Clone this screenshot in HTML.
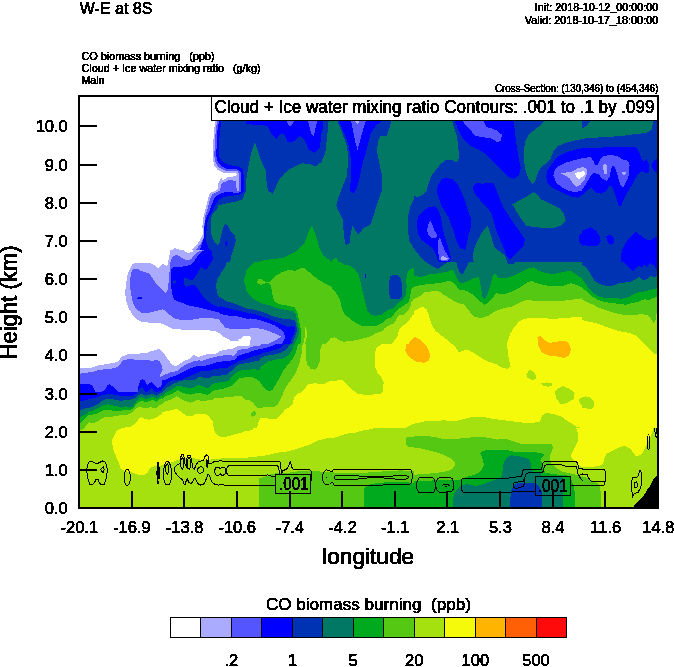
<!DOCTYPE html>
<html><head><meta charset="utf-8">
<style>
html,body{margin:0;padding:0;background:#fff;}
svg{display:block;}
text{font-family:"Liberation Sans",sans-serif;fill:#000;stroke:#000;white-space:pre;}
</style></head><body>
<svg width="674" height="667" viewBox="0 0 674 667">
<rect x="0" y="0" width="674" height="667" fill="#fff"/>
<defs><filter id="th" x="-5%" y="-5%" width="110%" height="110%" color-interpolation-filters="sRGB"><feComponentTransfer><feFuncA type="discrete" tableValues="0 0 1 1 1"/></feComponentTransfer></filter><clipPath id="pc"><rect x="79" y="96" width="579" height="412"/></clipPath></defs>
<g id="fill" clip-path="url(#pc)" shape-rendering="crispEdges">
<clipPath id="t0"><rect x="78" y="96" width="168" height="166"/></clipPath>
<g clip-path="url(#t0)"><rect x="78" y="96" width="168" height="166" fill="#ffffff"/>
<g transform="translate(78,96) scale(0.24926)">
<polygon fill="#aaaaff" points="553,90 547,130 543,180 540,230 540,255 548,280 562,298 585,308 632,310 637,316 630,322 600,326 582,338 574,329 564,349 559,377 529,390 521,415 511,455 504,481 499,521 501,556 484,587 458,617 438,632 413,620 388,609 372,622 362,652 360,670 680,670 680,90"/>
<polygon fill="#5555ff" points="560,90 553,130 550,180 547,230 548,255 556,275 570,290 592,300 640,302 647,312 647,382 637,382 634,340 605,338 590,345 577,349 569,380 539,395 529,417 519,455 511,481 506,521 506,566 489,597 468,622 446,642 433,652 413,640 393,632 380,642 372,670 680,670 680,90"/>
<polygon fill="#0000ff" points="568,90 560,130 557,180 555,230 556,252 563,270 577,284 596,292 640,295 652,305 655,330 655,385 640,388 600,386 578,388 558,400 545,414 536,437 528,460 518,480 511,500 506,531 504,572 494,602 484,627 471,652 466,670 680,670 680,90"/>
<polygon fill="#0032b4" points="578,90 572,120 568,160 566,200 566,240 573,258 590,270 610,278 640,282 660,292 665,320 665,385 650,395 620,400 590,404 568,413 555,430 545,452 535,470 524,490 519,510 516,531 514,582 524,612 537,642 542,670 680,670 680,90"/>
<polygon fill="#007864" points="680,378 674,380 660,415 640,422 600,430 564,438 554,460 537,478 532,501 532,541 537,566 549,587 559,599 567,592 574,561 582,531 590,515 600,518 612,541 630,561 633,582 625,612 615,642 610,670 680,670"/>
<polygon fill="#0000ff" points="591,585 598,583 601,592 596,600 590,596"/>
</g></g>
<clipPath id="t1"><rect x="246" y="96" width="168" height="166"/></clipPath>
<g clip-path="url(#t1)"><rect x="246" y="96" width="168" height="166" fill="#007864"/>
<g transform="translate(246,96) scale(0.24926)">
<polygon fill="#0032b4" points="-5,90 332,90 329,130 325,165 318,230 302,265 280,283 255,273 225,270 180,290 155,310 130,340 117,372 106,392 88,380 82,340 80,300 65,270 50,230 36,185 20,230 8,290 0,345 -5,350"/>
<polygon fill="#0000ff" points="-5,90 312,90 308,130 302,150 297,205 277,228 252,217 237,178 215,160 192,182 168,187 155,155 140,150 122,172 100,150 87,122 65,115 30,115 -5,110"/>
<polygon fill="#5555ff" points="160,90 168,112 178,122 188,112 195,90"/>
<polygon fill="#5555ff" points="247,90 252,115 262,150 270,162 277,140 283,110 285,90"/>
<polygon fill="#0032b4" points="362,90 375,120 390,160 405,200 410,250 405,320 385,370 370,410 362,440 375,470 390,500 392,560 400,597 415,592 420,550 427,520 450,557 470,532 500,515 515,470 530,420 545,380 546,320 535,270 525,220 530,180 540,160 565,160 575,130 587,90"/>
<polygon fill="#0000ff" points="368,90 385,130 400,165 412,200 420,250 420,330 418,380 430,393 445,370 455,330 465,280 480,230 490,190 500,150 520,120 540,105 547,90"/>
<polygon fill="#5555ff" points="420,90 430,140 440,190 447,216 455,190 465,150 478,110 484,90"/>
<polygon fill="#aaaaff" points="432,90 438,105 446,112 454,105 458,90"/>
<polygon fill="#0032b4" points="680,410 674,415 660,440 650,480 648,530 655,580 674,612 680,615"/>
<polygon fill="#00aa1e" points="40,670 70,660 100,655 150,650 200,625 235,590 255,535 265,520 280,560 295,610 310,640 335,658 345,670"/>
<polygon fill="#00aa1e" points="340,670 350,655 362,650 375,670"/>
</g></g>
<clipPath id="t2"><rect x="414" y="96" width="168" height="166"/></clipPath>
<g clip-path="url(#t2)"><rect x="414" y="96" width="168" height="166" fill="#0032b4"/>
<g transform="translate(414,96) scale(0.24926)">
<polygon fill="#007864" points="-5,90 150,90 160,125 172,160 178,210 182,250 170,265 150,255 125,258 105,275 85,300 70,320 60,345 50,380 35,395 15,405 0,400 -5,400"/>
<polygon fill="#007864" points="530,90 510,115 490,130 460,155 445,185 440,230 445,290 458,330 475,352 487,340 500,300 520,280 540,268 550,245 560,220 585,197 630,182 680,170 680,90"/>
<polygon fill="#007864" points="395,435 420,420 450,405 480,385 495,395 520,420 560,440 590,455 605,475 610,500 590,520 560,530 520,530 480,525 450,520 435,500 415,470"/>
<polygon fill="#007864" points="240,670 235,640 245,600 265,560 285,530 295,520 305,545 315,580 325,610 345,625 365,640 375,670"/>
<polygon fill="#0000ff" points="160,90 175,130 195,170 225,200 260,215 290,235 320,265 350,295 380,325 400,332 420,320 428,290 420,250 412,200 405,150 400,90"/>
<polygon fill="#5555ff" points="190,90 205,115 225,135 245,160 275,165 310,170 335,185 350,178 352,155 335,140 310,130 290,125 282,105 278,90"/>
<polygon fill="#0000ff" points="95,360 110,335 130,328 155,335 175,355 190,385 205,420 215,455 228,490 230,520 218,560 210,600 205,618 185,610 170,580 160,545 150,520 140,490 125,465 110,440 100,410 92,385"/>
<polygon fill="#0000ff" points="237,365 250,348 275,352 300,348 320,352 332,380 345,415 360,450 380,480 400,510 425,545 445,575 440,600 420,620 400,640 385,655 372,645 360,610 345,575 330,540 320,500 310,470 295,450 275,430 255,405 240,385"/>
<polygon fill="#0000ff" points="10,518 17,483 35,463 60,445 80,443 95,453 106,478 113,518 121,559 133,594 143,629 148,650 143,665 121,667 100,665 93,650 85,629 73,609 52,594 32,579 17,554"/>
<polygon fill="#5555ff" points="52,536 60,508 66,502 73,513 80,536 90,554 95,566 85,569 68,569 58,559"/>
<polygon fill="#5555ff" points="95,592 100,569 106,571 113,594 123,619 136,640 143,652 136,660 111,661 100,655 98,629"/>
<polygon fill="#aaaaff" points="106,650 113,642 126,645 136,652 131,659 111,659"/>
<polygon fill="#0000ff" points="680,198 640,215 610,230 585,240 565,260 545,290 530,320 535,350 550,375 575,395 610,405 650,410 680,412"/>
<polygon fill="#5555ff" points="680,226 640,245 610,262 590,270 570,290 558,315 560,340 575,360 600,375 630,385 680,390"/>
<polygon fill="#aaaaff" points="680,253 650,268 625,290 600,305 590,312 615,325 630,345 645,362 680,366"/>
<polygon fill="#ffffff" points="680,286 655,298 645,310 648,322 660,330 680,336"/>
<polygon fill="#0000ff" points="660,560 680,548 680,602 665,590"/>
<polygon fill="#007864" points="-5,600 4,619 35,655 50,672 -5,672"/>
</g></g>
<clipPath id="t3"><rect x="582" y="96" width="76" height="166"/></clipPath>
<g clip-path="url(#t3)"><rect x="582" y="96" width="76" height="166" fill="#0032b4"/>
<g transform="translate(582,96) scale(0.24888)">
<polygon fill="#007864" points="-5,135 20,118 40,90 285,90 282,140 250,152 220,150 180,160 140,165 100,160 60,160 30,165 -5,172"/>
<polygon fill="#0000ff" points="-5,198 30,210 70,212 110,205 150,205 190,212 220,205 235,225 245,250 255,268 263,250 275,270 272,300 262,312 250,290 240,300 225,310 215,330 200,355 190,375 175,395 160,420 152,446 145,440 130,400 115,380 100,370 80,390 60,395 45,385 30,370 15,385 0,402 -5,405"/>
<polygon fill="#0000ff" points="280,275 295,255 303,260 303,310 290,295"/>
<polygon fill="#5555ff" points="-5,228 20,245 40,255 60,250 75,240 100,238 130,245 150,250 170,255 185,262 192,290 190,320 180,345 170,370 160,360 150,320 140,290 130,275 120,300 110,330 95,340 80,320 65,310 50,320 35,330 20,350 10,370 0,385 -5,388"/>
<polygon fill="#aaaaff" points="-5,255 15,270 30,290 35,310 20,330 5,350 -5,365"/>
<polygon fill="#aaaaff" points="80,270 90,250 105,245 110,270 105,310 95,322 85,310"/>
<polygon fill="#aaaaff" points="150,270 165,265 180,280 182,310 175,340 165,350 158,330 152,300"/>
<polygon fill="#ffffff" points="-2,305 8,300 14,312 8,325 -2,322"/>
<polygon fill="#ffffff" points="92,280 100,278 100,305 93,308"/>
<polygon fill="#ffffff" points="165,310 172,306 174,316 167,320"/>
<polygon fill="#0000ff" points="-5,545 15,535 35,528 55,540 70,560 75,580 65,600 40,605 10,600 -5,602"/>
<polygon fill="#0000ff" points="97,565 110,558 125,565 130,585 120,598 105,592"/>
<polygon fill="#0000ff" points="155,670 160,620 175,590 195,565 215,545 235,560 255,575 275,580 290,570 305,565 305,670"/>
</g></g>
<clipPath id="t4"><rect x="78" y="262" width="168" height="166"/></clipPath>
<g clip-path="url(#t4)"><rect x="78" y="262" width="168" height="166" fill="#ffffff"/>
<g transform="translate(78,262) scale(0.24926)">
<polygon fill="#aaaaff" points="218,5 250,2 300,8 320,25 340,20 358,0 358,-5 680,-5 680,295 660,300 640,312 610,312 585,300 570,275 550,255 520,250 480,255 440,262 410,268 370,262 340,250 310,240 270,240 235,225 210,195 195,170 190,130 192,80 200,30"/>
<polygon fill="#5555ff" points="215,40 225,28 245,30 265,42 285,45 300,65 320,90 340,115 350,125 358,100 362,60 365,20 370,-5 680,-5 680,232 650,225 620,228 600,235 585,245 570,235 550,225 520,218 490,215 460,215 430,218 400,215 380,205 355,195 340,190 320,195 290,200 260,205 235,200 220,180 210,150 208,110 210,70"/>
<polygon fill="#0000ff" points="238,143 250,140 255,146 245,150"/>
<polygon fill="#0000ff" points="470,-5 450,14 410,22 380,20 372,40 372,80 375,120 385,150 410,170 440,180 470,190 500,195 530,198 560,205 590,215 620,212 650,208 680,212 680,-5"/>
<polygon fill="#0032b4" points="537,-5 532,31 507,51 487,71 482,96 502,116 527,131 552,156 597,176 657,196 680,202 680,-5"/>
<polygon fill="#0032b4" points="425,70 437,80 425,95 418,82"/>
<polygon fill="#0032b4" points="380,72 390,70 392,85 383,90"/>
<polygon fill="#007864" points="600,-5 590,20 570,50 558,80 555,110 565,135 590,155 620,168 650,178 680,185 680,-5"/>
<polygon fill="#00aa1e" points="680,45 670,55 666,75 670,95 680,105"/>
<polygon fill="#aaaaff" points="-5,430 20,425 50,425 80,415 110,410 140,405 160,400 175,380 200,370 240,368 270,365 300,360 325,350 345,370 360,395 380,420 395,410 420,395 445,385 465,375 480,385 500,380 530,372 560,362 590,355 620,350 650,340 680,333 680,670 -5,670"/>
<polygon fill="#5555ff" points="-5,450 30,445 60,440 90,432 120,430 150,425 165,415 180,395 200,390 240,392 280,392 310,390 330,392 340,410 335,435 328,455 345,462 370,445 400,432 430,420 460,410 490,402 520,395 550,388 580,380 610,372 640,360 680,348 680,670 -5,670"/>
<polygon fill="#0000ff" points="-5,490 20,488 40,495 60,510 80,520 100,515 115,495 125,490 140,505 160,522 200,524 240,522 245,490 255,470 268,490 278,500 290,485 300,495 315,515 330,505 345,480 365,468 390,458 420,447 450,438 480,430 510,422 540,415 570,408 600,400 630,390 655,375 680,366 680,670 -5,670"/>
<polygon fill="#0032b4" points="-5,525 75,525 160,528 240,527 260,520 280,525 310,530 330,520 345,500 370,485 400,475 430,465 460,455 490,448 520,442 550,436 580,430 610,420 640,405 660,392 680,383 680,670 -5,670"/>
<polygon fill="#007864" points="-5,560 20,555 50,548 80,545 110,545 150,548 190,545 220,540 245,530 270,540 300,545 330,535 355,515 380,500 410,490 440,482 470,475 500,470 530,462 560,455 590,448 620,438 650,420 680,406 680,670 -5,670"/>
<polygon fill="#00aa1e" points="-5,590 20,585 40,575 60,568 80,565 110,565 150,562 190,560 220,552 245,542 270,552 300,555 330,548 360,530 385,515 410,505 440,498 470,492 500,487 530,480 560,472 590,466 620,455 650,440 680,426 680,670 -5,670"/>
<polygon fill="#55c814" points="-5,615 15,605 35,595 55,585 80,578 110,578 150,575 190,572 220,565 245,555 270,565 300,568 330,562 360,545 385,530 410,520 440,515 470,510 500,505 530,500 560,492 590,486 620,475 650,462 680,448 680,670 -5,670"/>
<polygon fill="#a5e10f" points="-5,645 10,635 25,622 45,610 65,600 90,595 120,595 150,592 190,590 220,580 240,570 270,578 300,582 330,578 360,565 390,550 420,542 450,540 480,540 510,540 540,540 570,540 600,540 630,538 680,538 680,670 -5,670"/>
<polygon fill="#f5fa0a" points="235,670 240,640 260,625 290,615 320,610 350,600 380,592 410,590 440,600 470,610 500,612 525,620 540,640 545,670"/>
</g></g>
<clipPath id="t5"><rect x="246" y="262" width="84" height="84"/></clipPath>
<g clip-path="url(#t5)"><rect x="246" y="262" width="84" height="84" fill="#00aa1e"/>
<g transform="translate(246,262) scale(0.12463)">
<polygon fill="#007864" points="-5,-5 75,-5 40,25 10,60 -5,80"/>
<polygon fill="#007864" points="-5,220 0,225 30,270 70,305 120,330 180,345 250,370 320,385 380,395 400,420 410,470 420,520 425,560 420,600 400,640 385,672 -5,672"/>
<polygon fill="#0032b4" points="-5,370 50,380 110,395 170,415 230,440 300,455 360,460 395,470 405,520 410,545 400,580 385,620 365,672 -5,672"/>
<polygon fill="#0000ff" points="-5,405 60,415 120,435 180,455 240,480 300,505 340,525 365,510 385,510 395,540 385,580 365,620 350,672 -5,672"/>
<polygon fill="#5555ff" points="-5,450 60,455 120,470 180,490 230,510 270,535 300,560 315,600 300,640 280,672 -5,672"/>
<polygon fill="#aaaaff" points="-5,525 60,528 120,535 170,550 220,570 260,585 280,600 250,620 210,640 170,660 150,672 -5,672"/>
<polygon fill="#ffffff" points="-5,585 25,590 40,610 35,650 25,672 -5,672"/>
<polygon fill="#55c814" points="90,160 100,140 120,135 140,150 155,160 185,160 200,150 240,110 290,80 340,65 400,70 440,50 470,50 500,75 540,110 580,140 620,165 672,192 672,672 430,672 440,640 445,600 440,540 430,490 420,440 410,400 390,365 340,350 290,345 240,325 215,290 210,240 200,190 185,168 155,172 140,180 115,182 95,172"/>
<polygon fill="#a5e10f" points="478,515 490,560 485,620 470,672 455,672 468,620 475,560"/>
<polygon fill="#a5e10f" points="672,625 645,650 630,672 672,672"/>
</g></g>
<clipPath id="t6"><rect x="330" y="262" width="84" height="84"/></clipPath>
<g clip-path="url(#t6)"><rect x="330" y="262" width="84" height="84" fill="#00aa1e"/>
<g transform="translate(330,262) scale(0.12463)">
<polygon fill="#007864" points="80,-5 110,20 160,30 200,60 230,100 245,160 260,230 280,310 300,390 330,425 370,432 420,420 460,385 500,375 530,345 560,320 590,300 610,260 615,200 612,140 620,90 640,60 672,48 672,-5"/>
<polygon fill="#0032b4" points="475,165 480,120 500,105 540,105 565,125 575,165 575,280 560,295 500,298 478,285"/>
<polygon fill="#0000ff" points="278,90 290,95 288,130 280,130"/>
<polygon fill="#55c814" points="-5,185 0,190 30,225 60,265 85,320 95,380 120,420 160,455 200,485 250,510 320,515 380,510 420,490 450,460 490,445 520,410 540,385 570,365 600,345 630,320 645,270 650,220 672,198 672,672 -5,672"/>
<polygon fill="#a5e10f" points="-5,610 40,605 70,625 110,640 160,635 220,625 280,610 330,595 370,570 420,555 440,530 470,510 510,495 530,465 550,430 590,425 620,400 640,370 655,320 672,298 672,672 -5,672"/>
<polygon fill="#f5fa0a" points="480,672 510,640 540,600 555,540 580,515 610,495 640,460 660,430 672,422 672,672"/>
<polygon fill="#ffb400" points="620,672 640,640 672,612 672,672"/>
</g></g>
<clipPath id="t7"><rect x="246" y="344" width="84" height="84"/></clipPath>
<g clip-path="url(#t7)"><rect x="246" y="344" width="84" height="84" fill="#a5e10f"/>
<g transform="translate(246,344) scale(0.12463)">
<polygon fill="#55c814" points="-5,440 0,440 30,450 60,475 80,505 100,515 160,505 220,510 250,490 275,450 300,390 330,330 360,290 400,230 430,150 445,80 455,-5 -5,-5"/>
<polygon fill="#00aa1e" points="-5,260 40,265 80,285 120,320 160,365 185,380 210,370 235,330 270,270 300,210 340,160 375,120 400,70 420,-5 -5,-5"/>
<polygon fill="#007864" points="-5,205 60,200 120,180 180,140 230,125 290,120 340,90 370,50 385,-5 -5,-5"/>
<polygon fill="#0032b4" points="-5,150 40,145 100,120 160,95 220,85 280,70 330,40 355,-5 -5,-5"/>
<polygon fill="#0000ff" points="-5,115 60,95 130,75 200,55 270,35 320,-5 -5,-5"/>
<polygon fill="#5555ff" points="-5,75 60,55 120,40 180,25 260,-5 -5,-5"/>
<polygon fill="#aaaaff" points="-5,35 50,25 100,10 150,-5 -5,-5"/>
<polygon fill="#55c814" points="480,-5 478,60 480,120 495,170 520,200 550,205 575,185 590,140 590,80 600,30 615,-5"/>
<polygon fill="#55c814" points="35,560 60,535 80,550 75,575 50,585"/>
<polygon fill="#f5fa0a" points="90,672 100,630 120,590 160,595 210,605 250,600 280,570 310,530 350,505 375,480 385,430 410,400 450,385 470,360 500,320 560,315 610,325 640,315 672,298 672,672"/>
</g></g>
<clipPath id="t8"><rect x="330" y="344" width="84" height="84"/></clipPath>
<g clip-path="url(#t8)"><rect x="330" y="344" width="84" height="84" fill="#f5fa0a"/>
<g transform="translate(330,344) scale(0.12463)">
<polygon fill="#a5e10f" points="-5,300 50,295 90,285 110,295 150,335 190,375 220,400 290,408 350,405 410,400 425,380 430,310 410,265 380,230 365,190 360,130 360,70 375,30 410,5 430,-5 -5,-5"/>
<polygon fill="#ffb400" points="610,-5 605,50 620,90 650,120 672,128 672,-5"/>
<polygon fill="#a5e10f" points="672,640 640,655 610,672 672,672"/>
</g></g>
<clipPath id="t9"><rect x="414" y="262" width="168" height="166"/></clipPath>
<g clip-path="url(#t9)"><rect x="414" y="262" width="168" height="166" fill="#f5fa0a"/>
<g transform="translate(414,262) scale(0.24926)">
<polygon fill="#a5e10f" points="-5,200 15,188 35,180 50,190 60,215 70,250 85,275 110,295 140,318 165,340 180,362 200,355 215,352 240,365 270,385 300,400 330,410 355,425 375,428 388,420 380,390 375,350 375,320 385,290 400,265 420,240 440,228 470,225 510,225 560,228 600,225 640,222 680,222 680,-5 -5,-5"/>
<polygon fill="#55c814" points="-5,150 20,140 40,122 70,118 100,118 125,135 150,150 175,165 200,170 220,195 240,220 270,225 300,215 330,195 360,185 390,180 420,165 450,152 480,155 520,158 560,158 600,155 640,150 680,145 680,-5 -5,-5"/>
<polygon fill="#00aa1e" points="-5,100 30,92 60,88 100,85 140,75 160,85 180,110 210,115 235,130 260,155 285,172 310,150 330,125 360,130 390,120 420,105 450,85 470,75 490,85 520,92 560,98 600,95 630,85 660,95 680,105 680,-5 -5,-5"/>
<polygon fill="#007864" points="-5,55 30,60 60,50 100,45 130,40 155,30 170,60 185,85 210,80 240,65 260,60 268,100 275,140 285,150 295,130 305,100 315,60 325,45 340,65 370,65 400,55 430,40 460,25 480,22 500,35 530,45 560,48 600,40 630,35 650,50 680,70 680,-5 -5,-5"/>
<polygon fill="#0032b4" points="40,-5 70,14 95,27 116,14 131,4 140,-5"/>
<polygon fill="#0032b4" points="168,-5 175,20 185,45 195,50 205,30 215,10 222,-5"/>
<polygon fill="#0032b4" points="365,-5 380,8 400,8 412,-5"/>
<polygon fill="#ffb400" points="-5,298 15,305 35,320 55,345 65,375 60,395 40,405 15,400 -5,398"/>
<polygon fill="#ffb400" points="495,300 510,298 525,315 545,325 570,320 600,315 620,325 630,350 622,375 600,385 570,378 540,375 515,365 500,340"/>
<polygon fill="#a5e10f" points="450,450 465,433 485,445 492,465 475,475 455,465"/>
<polygon fill="#a5e10f" points="510,487 530,483 555,488 555,498 535,500 515,495"/>
<polygon fill="#a5e10f" points="565,520 580,505 600,498 625,510 645,525 640,550 615,565 590,572 572,550"/>
<polygon fill="#a5e10f" points="660,550 680,543 680,582 668,570"/>
<polygon fill="#a5e10f" points="-5,650 40,640 80,638 120,635 160,640 200,630 240,620 280,622 320,630 360,635 400,640 440,645 480,645 505,640 515,615 530,605 560,610 590,620 620,640 650,660 680,668 680,672 -5,672"/>
</g></g>
<clipPath id="t10"><rect x="582" y="262" width="76" height="166"/></clipPath>
<g clip-path="url(#t10)"><rect x="582" y="262" width="76" height="166" fill="#f5fa0a"/>
<g transform="translate(582,262) scale(0.24888)">
<polygon fill="#a5e10f" points="-5,232 30,240 70,250 110,265 150,278 190,285 215,295 235,315 255,335 275,355 290,370 300,368 310,360 310,-5 -5,-5"/>
<polygon fill="#55c814" points="-5,150 20,160 45,172 70,185 100,195 130,205 165,212 200,215 240,208 265,215 278,230 288,245 295,235 300,205 310,195 310,-5 -5,-5"/>
<polygon fill="#00aa1e" points="-5,100 15,115 35,135 60,150 90,160 120,165 150,168 175,172 200,165 225,160 250,150 270,152 285,145 300,140 310,135 310,-5 -5,-5"/>
<polygon fill="#007864" points="-5,60 10,80 25,105 45,125 70,140 100,145 130,145 160,148 190,140 210,128 235,120 255,118 270,112 285,110 300,105 310,100 310,-5 -5,-5"/>
<polygon fill="#0032b4" points="-5,-5 0,10 20,25 35,50 50,75 75,90 100,97 125,95 150,85 175,82 200,78 215,70 230,60 245,75 260,70 275,55 290,62 305,55 310,50 310,-5"/>
<polygon fill="#0000ff" points="160,-5 175,10 195,30 205,38 215,25 230,15 240,22 250,10 262,20 275,5 290,15 300,30 310,35 310,-5"/>
<polygon fill="#a5e10f" points="-5,545 15,540 35,545 48,560 50,580 38,592 15,588 -5,585"/>
</g></g>
<clipPath id="t11"><rect x="78" y="428" width="168" height="82"/></clipPath>
<g clip-path="url(#t11)"><rect x="78" y="428" width="168" height="82" fill="#a5e10f"/>
<g transform="translate(78,428) scale(0.24926)">
<polygon fill="#f5fa0a" points="165,-5 150,25 140,50 140,80 148,105 160,130 170,160 185,172 215,178 245,188 265,190 280,178 290,160 310,152 340,150 370,140 395,130 420,120 450,118 480,125 510,130 540,125 580,122 620,120 680,120 680,13 640,25 600,30 570,28 550,15 538,-5"/>
<polygon fill="#55c814" points="-5,-5 32,-5 28,8 -5,10"/>
</g></g>
<clipPath id="t12"><rect x="246" y="428" width="168" height="82"/></clipPath>
<g clip-path="url(#t12)"><rect x="246" y="428" width="168" height="82" fill="#a5e10f"/>
<g transform="translate(246,428) scale(0.24926)">
<polygon fill="#f5fa0a" points="-5,120 40,115 80,110 120,100 160,95 200,85 230,75 260,65 290,50 320,42 350,40 380,30 410,22 440,18 470,10 500,5 530,-5 35,-5 25,8 -5,15"/>
<polygon fill="#55c814" points="51,335 51,203 86,191 106,183 146,181 186,178 216,173 256,171 300,175 340,178 380,180 420,182 460,180 500,178 540,175 580,172 620,170 660,172 680,175 680,335"/>
<polygon fill="#00aa1e" points="475,335 475,240 490,228 520,222 560,218 600,215 640,218 680,220 680,335"/>
<polygon fill="#55c814" points="640,40 660,35 680,38 680,75 655,78 640,65"/>
</g></g>
<clipPath id="t13"><rect x="414" y="428" width="84" height="82"/></clipPath>
<g clip-path="url(#t13)"><rect x="414" y="428" width="84" height="82" fill="#a5e10f"/>
<g transform="translate(414,428) scale(0.12469)">
<polygon fill="#55c814" points="-5,65 60,62 120,65 180,75 240,90 300,90 360,85 420,80 480,72 540,70 600,80 680,95 680,672 -5,672"/>
<polygon fill="#a5e10f" points="-5,160 60,165 120,180 180,195 240,215 290,240 325,270 328,300 310,325 270,345 220,355 160,362 100,368 40,372 -5,375"/>
<polygon fill="#00aa1e" points="-5,425 100,422 200,420 300,418 350,420 400,400 450,385 500,370 540,340 560,300 555,260 540,225 530,200 545,185 580,178 630,175 680,178 680,672 -5,672"/>
<polygon fill="#007864" points="315,672 315,560 325,520 345,495 370,470 400,455 430,450 460,460 500,465 540,455 580,440 620,425 650,415 680,408 680,672"/>
</g></g>
<clipPath id="t14"><rect x="498" y="428" width="84" height="82"/></clipPath>
<g clip-path="url(#t14)"><rect x="498" y="428" width="84" height="82" fill="#a5e10f"/>
<g transform="translate(498,428) scale(0.12469)">
<polygon fill="#f5fa0a" points="625,-5 640,40 645,80 635,120 615,160 595,200 587,217 593,245 622,273 651,302 694,324 694,-5"/>
<polygon fill="#55c814" points="-5,90 40,88 80,92 120,105 160,120 200,130 260,130 320,128 380,125 430,130 440,150 435,185 420,215 415,259 430,288 465,317 501,345 551,359 608,370 651,381 694,403 694,672 -5,672"/>
<polygon fill="#00aa1e" points="-5,178 40,172 80,178 120,188 180,195 240,195 300,195 350,200 370,215 350,240 337,259 358,288 373,345 379,359 444,370 516,377 580,384 593,431 608,473 619,537 622,672 -5,672"/>
<polygon fill="#007864" points="-5,405 20,400 30,380 35,350 45,280 70,240 105,220 150,222 200,235 250,250 265,290 270,340 290,352 340,350 351,395 519,395 523,500 523,672 -5,672"/>
<polygon fill="#0032b4" points="95,672 100,560 105,510 115,480 130,455 160,440 200,440 250,440 300,445 330,470 350,510 355,560 355,672"/>
</g></g>
<clipPath id="t15"><rect x="582" y="428" width="76" height="82"/></clipPath>
<g clip-path="url(#t15)"><rect x="582" y="428" width="76" height="82" fill="#a5e10f"/>
<g transform="translate(582,428) scale(0.12469)">
<polygon fill="#f5fa0a" points="-5,310 40,315 100,310 150,300 170,280 180,240 195,210 230,190 270,170 310,150 340,145 380,160 410,195 430,225 450,225 475,215 495,180 520,130 545,80 565,30 575,-5 -5,-5"/>
<polygon fill="#55c814" points="-5,385 30,395 60,410 90,430 120,440 145,460 150,520 148,672 -5,672"/>
<polygon fill="#000000" points="400,645 440,600 490,550 520,500 550,460 575,410 600,385 620,385 620,672 400,672"/>
</g></g>
<clipPath id="t16"><rect x="540" y="130" width="120" height="90"/></clipPath>
<g clip-path="url(#t16)"><rect x="540" y="130" width="120" height="90" fill="#0032b4"/>
<g transform="translate(540,130) scale(0.17803)">
<polygon fill="#007864" points="-5,-5 625,-5 610,10 590,18 540,22 470,32 400,38 330,42 250,48 200,58 150,70 100,90 75,120 60,160 30,190 -5,220"/>
<polygon fill="#007864" points="-5,385 30,400 70,420 110,440 135,470 145,510 -5,510"/>
<polygon fill="#0000ff" points="35,260 40,230 65,190 100,150 150,125 200,110 250,100 320,100 400,95 470,98 540,95 555,120 570,160 585,175 598,160 610,185 615,230 600,245 575,230 550,250 530,280 510,320 480,370 455,425 445,430 430,390 415,340 400,310 385,320 370,345 340,358 310,350 290,325 275,330 250,355 215,380 180,375 140,360 100,340 65,320 40,295"/>
<polygon fill="#0000ff" points="625,200 640,170 655,165 655,245 640,230"/>
<polygon fill="#5555ff" points="75,255 80,230 100,205 140,185 190,170 240,158 285,152 300,175 310,200 325,195 340,165 360,145 400,140 440,150 470,170 495,172 503,200 500,250 485,290 470,320 455,315 440,270 425,220 410,195 400,215 392,260 375,285 350,275 330,250 300,240 280,265 260,300 235,340 200,350 160,340 120,320 90,295"/>
<polygon fill="#aaaaff" points="118,243 150,238 185,232 210,215 245,208 262,220 265,245 250,280 225,310 205,318 185,300 165,270 140,255"/>
<polygon fill="#aaaaff" points="355,200 365,190 375,195 378,230 372,250 358,245"/>
<polygon fill="#aaaaff" points="462,240 472,232 482,240 478,252 466,252"/>
<polygon fill="#ffffff" points="195,245 215,235 245,232 255,245 240,262 220,275 205,265"/>
</g></g>
<clipPath id="t17"><rect x="78" y="375" width="84" height="70"/></clipPath>
<g clip-path="url(#t17)"><rect x="78" y="375" width="84" height="70" fill="#5555ff"/>
<g transform="translate(78,375) scale(0.12469)">
<polygon fill="#aaaaff" points="650,-5 655,12 680,15 680,-5"/>
<polygon fill="#0000ff" points="-5,75 40,68 80,72 110,80 125,105 140,135 190,135 215,120 235,85 250,72 270,85 300,110 325,135 480,135 485,90 500,45 515,32 535,45 555,80 575,65 590,58 610,80 640,105 660,95 680,70 680,570 -5,570"/>
<polygon fill="#0032b4" points="-5,218 30,210 60,200 110,190 160,175 200,160 250,152 300,160 350,168 400,168 440,165 470,150 490,120 505,97 520,105 540,135 560,135 580,115 590,105 605,125 630,140 655,130 680,116 680,570 -5,570"/>
<polygon fill="#007864" points="-5,290 20,282 50,270 90,262 130,250 160,232 190,210 220,195 260,190 300,198 340,208 380,200 410,198 440,195 465,180 490,160 510,150 540,165 570,160 600,150 630,165 655,150 680,138 680,570 -5,570"/>
<polygon fill="#00aa1e" points="-5,345 20,335 45,322 70,310 90,290 120,285 150,270 180,255 210,240 240,235 280,245 320,252 350,262 380,250 410,262 440,255 460,225 480,195 510,180 540,195 570,185 600,175 630,190 655,175 680,158 680,570 -5,570"/>
<polygon fill="#55c814" points="-5,395 20,385 40,370 60,345 80,325 110,320 150,310 180,295 210,280 250,280 290,290 330,290 370,280 410,282 440,270 460,245 480,220 510,205 540,218 570,210 600,200 630,215 655,195 680,178 680,570 -5,570"/>
<polygon fill="#a5e10f" points="-5,450 30,440 50,425 70,395 90,380 130,385 160,370 190,350 220,335 260,335 300,330 350,322 400,318 430,305 450,285 470,265 500,255 530,265 560,262 590,258 620,270 650,245 680,226 680,570 -5,570"/>
<polygon fill="#f5fa0a" points="270,570 275,520 295,480 310,445 340,430 380,420 420,415 445,400 470,375 490,350 510,340 540,352 570,358 600,355 630,340 660,318 680,308 680,570"/>
</g></g>
<clipPath id="t18"><rect x="162" y="375" width="84" height="70"/></clipPath>
<g clip-path="url(#t18)"><rect x="162" y="375" width="84" height="70" fill="#f5fa0a"/>
<g transform="translate(162,375) scale(0.12469)">
<polygon fill="#a5e10f" points="-5,300 40,290 80,280 120,272 140,285 170,310 200,328 235,332 260,318 300,312 340,312 365,320 385,345 405,370 412,410 420,450 440,480 465,495 510,495 545,490 575,478 610,470 640,462 680,443 680,-5 -5,-5"/>
<polygon fill="#55c814" points="-5,240 20,215 50,205 90,190 120,170 150,190 190,210 230,222 260,210 285,200 320,210 360,205 400,190 440,185 500,180 560,178 610,175 640,170 660,180 680,194 680,-5 -5,-5"/>
<polygon fill="#00aa1e" points="-5,200 20,175 50,160 90,148 125,120 150,135 190,150 230,158 260,150 290,140 330,150 370,155 400,135 440,120 480,110 520,100 560,85 585,60 610,30 640,15 680,3 680,-5 -5,-5"/>
<polygon fill="#007864" points="-5,175 20,150 50,130 80,118 120,85 150,90 190,100 230,108 260,95 290,80 330,95 370,105 400,85 440,65 480,55 520,45 550,30 575,10 590,-5 -5,-5"/>
<polygon fill="#0032b4" points="-5,145 20,118 50,95 90,72 130,55 180,40 230,38 280,25 330,28 380,18 430,10 480,5 520,-5 -5,-5"/>
<polygon fill="#0000ff" points="-5,115 15,90 40,65 80,45 130,25 180,10 210,-5 -5,-5"/>
<polygon fill="#5555ff" points="-5,-5 140,-5 130,12 60,20 20,25 -5,40"/>
</g></g>
<clipPath id="t19"><rect x="150" y="300" width="100" height="80"/></clipPath>
<g clip-path="url(#t19)"><rect x="150" y="300" width="100" height="80" fill="#ffffff"/>
<g transform="translate(150,300) scale(0.14837)">
<polygon fill="#aaaaff" points="-5,155 60,155 90,160 120,180 150,190 185,185 210,195 240,185 280,183 320,190 350,205 400,205 440,210 470,225 500,250 540,272 580,272 610,260 630,245 680,240 680,-5 -5,-5"/>
<polygon fill="#5555ff" points="-5,85 60,65 85,58 105,75 130,100 160,125 200,130 300,130 400,140 470,142 490,160 505,185 540,195 600,195 680,195 680,-5 -5,-5"/>
<polygon fill="#0000ff" points="150,-5 200,15 250,30 300,48 350,62 400,78 450,90 500,100 550,108 600,112 650,125 680,133 680,-5"/>
<polygon fill="#0032b4" points="350,-5 400,18 450,35 500,50 550,62 600,72 650,85 680,97 680,-5"/>
<polygon fill="#007864" points="480,-5 520,10 570,25 620,45 680,67 680,-5"/>
<polygon fill="#aaaaff" points="-5,345 30,340 60,330 80,345 100,370 120,400 145,430 170,448 200,430 230,410 260,400 290,375 300,370 320,385 350,380 400,365 450,355 500,335 550,325 600,310 640,305 680,299 680,545 -5,545"/>
<polygon fill="#5555ff" points="680,311 640,320 590,330 550,347 500,358 450,378 400,388 350,402 300,412 250,430 215,452 180,480 140,488 100,502 65,520 70,500 85,470 80,440 65,410 40,405 -5,415 -5,545 680,545"/>
<polygon fill="#0000ff" points="95,545 130,525 170,510 210,490 250,470 300,450 350,438 400,422 450,408 500,392 550,375 600,355 640,345 680,334 680,545"/>
<polygon fill="#0032b4" points="200,545 250,520 300,498 350,480 400,465 450,450 500,435 550,415 590,395 630,385 680,369 680,545"/>
<polygon fill="#007864" points="290,545 330,520 380,505 420,500 460,490 500,478 540,460 580,435 620,420 680,404 680,545"/>
<polygon fill="#00aa1e" points="440,545 480,525 520,510 560,485 600,465 640,450 680,439 680,545"/>
<polygon fill="#55c814" points="540,545 570,515 600,495 640,480 680,469 680,545"/>
<polygon fill="#a5e10f" points="620,545 650,520 680,509 680,545"/>
</g></g>
<clipPath id="t20"><rect x="120" y="250" width="100" height="80"/></clipPath>
<g clip-path="url(#t20)"><rect x="120" y="250" width="100" height="80" fill="#ffffff"/>
<g transform="translate(120,250) scale(0.14837)">
<polygon fill="#aaaaff" points="340,-5 335,30 325,80 318,110 300,100 285,95 270,115 255,125 235,105 215,92 180,88 140,90 100,88 80,100 65,130 50,170 40,230 35,290 40,340 55,385 80,430 110,465 150,485 200,490 250,492 290,498 320,515 350,530 400,530 430,545 680,545 680,-5 500,-5 490,10 465,20 440,15 430,-5"/>
<polygon fill="#5555ff" points="75,150 90,130 115,125 140,140 165,150 195,155 215,185 240,220 270,255 295,280 310,290 320,270 330,200 335,130 340,80 350,50 375,32 400,40 425,60 455,70 480,60 500,35 520,15 550,5 570,-5 680,-5 680,472 640,462 600,460 560,455 520,465 480,470 440,470 400,470 370,462 340,440 310,415 290,400 265,405 230,415 190,425 150,425 125,410 100,385 85,350 75,300 68,250 68,200"/>
<polygon fill="#0000ff" points="115,322 130,316 148,320 145,330 120,332"/>
<polygon fill="#0000ff" points="345,130 360,112 400,115 440,108 480,100 500,75 520,45 540,20 560,5 590,-5 680,-5 680,425 640,415 600,405 560,395 520,385 480,378 440,365 400,350 365,335 352,300 345,250 343,190"/>
<polygon fill="#0032b4" points="615,-5 620,30 630,60 610,90 590,120 575,135 560,125 545,115 535,135 520,160 500,190 485,205 455,195 440,185 428,200 430,230 445,250 470,240 500,235 520,255 540,285 560,315 590,345 620,365 650,380 680,388 680,-5"/>
<polygon fill="#0032b4" points="358,210 370,202 378,215 370,228 360,225"/>
<polygon fill="#007864" points="680,165 665,180 652,210 648,250 655,290 668,320 680,335"/>
</g></g>
<clipPath id="t21"><rect x="200" y="340" width="60" height="60"/></clipPath>
<g clip-path="url(#t21)"><rect x="200" y="340" width="60" height="60" fill="#ffffff"/>
<g transform="translate(200,340) scale(0.08993)">
<polygon fill="#aaaaff" points="-5,185 50,165 100,155 180,150 230,120 300,105 360,100 400,80 420,68 480,68 540,65 556,50 560,-5 680,-5 680,680 -5,680"/>
<polygon fill="#aaaaff" points="335,-5 340,8 430,8 435,-5"/>
<polygon fill="#5555ff" points="-5,240 50,222 100,205 130,200 180,185 230,175 280,170 330,168 370,175 400,150 430,110 480,100 530,95 560,80 600,70 680,60 680,680 -5,680"/>
<polygon fill="#0000ff" points="-5,290 50,285 100,280 130,265 180,250 230,240 300,235 350,228 390,215 420,180 450,165 500,150 540,140 580,125 620,110 680,98 680,680 -5,680"/>
<polygon fill="#0032b4" points="-5,340 40,345 80,350 110,340 150,325 200,318 250,315 300,310 330,290 360,275 400,255 430,235 470,225 520,210 560,195 600,180 640,170 680,163 680,680 -5,680"/>
<polygon fill="#007864" points="-5,410 40,418 80,430 110,415 140,405 180,400 230,395 290,390 320,365 350,340 380,310 410,280 440,268 480,262 520,258 560,250 600,240 640,232 680,223 680,680 -5,680"/>
<polygon fill="#00aa1e" points="-5,510 30,515 60,525 90,540 110,520 130,495 170,480 220,470 280,465 320,450 345,420 370,395 400,365 430,345 470,335 520,332 560,328 600,325 640,330 680,330 680,680 -5,680"/>
<polygon fill="#55c814" points="-5,590 40,600 80,610 100,600 130,575 160,560 200,552 250,545 300,530 350,510 375,490 400,460 430,430 470,420 520,412 560,410 600,420 630,440 680,468 680,680 -5,680"/>
<polygon fill="#a5e10f" points="120,680 160,650 210,645 260,640 320,632 380,628 430,622 460,625 490,645 510,680"/>
</g></g>
</g>
<g id="cont" clip-path="url(#pc)" fill="none" stroke="#000" stroke-width="1" shape-rendering="crispEdges">
<g transform="translate(78,445) scale(0.12469)" stroke-width="8.02">
<path d="M75,165 L85,140 105,128 130,140 150,150 175,140 195,128 215,135 228,160 235,200 230,250 220,290 210,318 185,318 170,300 160,275 145,275 135,295 120,315 95,318 85,290 75,250 70,200 Z"/>
<path d="M180,197 L205,175 210,200 200,222 Z"/>
<path d="M370,260 a25,65 0 1,0 50,0 a25,65 0 1,0 -50,0 Z"/>
</g>
<g transform="translate(150,445) scale(0.12469)" stroke-width="8.02">
<path d="M56,225 a9,88 0 1,0 18,0 a9,88 0 1,0 -18,0 Z"/>
<path d="M62,215 a3,60 0 1,0 6,0 a3,60 0 1,0 -6,0 Z"/>
<path d="M115,160 L130,135 150,135 165,165 175,220 170,280 155,318 125,320 112,280 108,220 Z"/>
<path d="M125,170 L138,150 150,175 152,215 140,235 128,215 Z"/>
<path d="M200,180 L215,160 240,150 245,100 255,78 268,78 275,100 280,150 290,170 295,110 305,82 320,82 330,105 338,150 340,180 355,195 370,160 385,135 410,128 430,120 440,95 452,78 465,90 470,125 472,150 490,150 520,130 560,128 642,130"/>
<path d="M200,180 L200,215 215,240 235,260 250,270 262,280 270,310 285,318 290,285 300,270 310,300 330,310 345,290 355,265 365,270 380,305 400,322 430,315 445,290 455,260 465,235 475,240 485,270 500,300 520,315 550,322 580,315 600,322 642,325"/>
<path d="M245,160 L250,110 260,100 268,115 270,170 262,195 250,185 Z"/>
<path d="M300,170 L303,115 312,100 322,115 325,170 318,195 305,190 Z"/>
<path d="M380,200 L390,178 415,175 432,195 425,220 400,228 385,218 Z"/>
<path d="M455,110 L462,140 460,185 452,150 Z"/>
<path d="M520,200 L530,180 550,178 565,190 580,178 600,180 610,200 600,235 580,245 565,232 550,245 530,240 520,220 Z"/>
<path d="M642,165 L625,170 615,190 615,225 625,240 642,245"/>
</g>
<g transform="translate(230,450) scale(0.12469)" stroke-width="8.02">
<path d="M0,90 L395,90 405,100 408,150 415,190"/>
<path d="M0,125 L60,128 80,122 150,128 180,125 380,125 390,140 398,195"/>
<path d="M0,205 L200,205 280,208 300,200 330,210 365,210"/>
<path d="M0,285 L365,285"/>
<path d="M415,190 L425,165 450,155 465,140 478,105 485,98 492,120 500,150 520,160 560,158 640,158 650,170 655,195 655,250"/>
<path d="M365,195 L645,195 645,345 365,345 Z"/>
</g>
<g transform="translate(246,428) scale(0.24925)" stroke-width="4.01">
<path d="M310,180 L320,168 335,170 345,178 352,165 660,165 668,185 665,215 655,228 355,230 345,215 335,225 320,228 310,215 305,198 Z"/>
</g>
<g transform="translate(414,428) scale(0.12469)" stroke-width="8.02">
<path d="M25,430 L40,400 70,395 140,395 160,405 170,440 172,480 160,515 40,518 25,490 18,460 Z"/>
<path d="M172,440 L190,405 215,395 290,395 310,410 318,450 315,490 300,512 200,515 180,495 Z"/>
<path d="M225,462 L245,452 270,455 290,462"/>
<path d="M250,466 L262,466"/>
<path d="M674,403 L400,403 385,410 380,440 378,465 382,495 395,518 674,518"/>
</g>
<g transform="translate(498,428) scale(0.12469)" stroke-width="8.02">
<path d="M0,405 L110,400 190,385 200,340 215,330 350,330 360,280 375,268 630,268 640,290 648,325 680,328"/>
<path d="M0,518 L100,518 112,512 300,512"/>
<path d="M120,455 L135,435 200,430 215,400 225,370 240,360 355,360 365,340 372,305 385,295 490,295 500,290 515,298 540,305 625,305 635,330 640,365 650,385 665,372 680,368"/>
<path d="M120,455 L125,475 145,488 175,475 200,470 210,450 215,400"/>
<path d="M640,365 L655,395 680,425"/>
<path d="M582,458 L680,458"/>
<path d="M300,385 L582,385 582,540 300,540 Z"/>
</g>
<g transform="translate(582,428) scale(0.12469)" stroke-width="8.02">
<path d="M0,330 L175,330 185,345 188,400 182,455 170,462 0,462"/>
<path d="M0,372 L40,372 50,395 70,425 185,428"/>
<path d="M405,400 L440,395 455,375 462,340 470,340 478,380 480,430 470,480 450,515 420,525 405,550 400,500 395,450 Z"/>
<path d="M420,440 L435,432 445,450 440,480 425,480 Z"/>
<path d="M524,115 a9,60 0 1,0 18,0 a9,60 0 1,0 -18,0 Z"/>
<path d="M578,0 L585,30 595,75 603,70 598,0"/>
</g>
<g transform="translate(314,455) scale(0.15432)" stroke-width="6.48">
<path d="M130,140 L140,130 270,130 300,138 380,140 500,140 530,130 580,130 615,145 580,158 540,160 500,150 400,148 300,150 270,160 140,160 130,150 Z"/>
<path d="M76,145 L84,145"/>
</g>
</g>
<g shape-rendering="crispEdges" stroke="#000" fill="none" stroke-width="2">
<rect x="79" y="96" width="579" height="412"/>
<line x1="79" x2="97" y1="470.0" y2="470.0"/>
<line x1="79" x2="97" y1="432.0" y2="432.0"/>
<line x1="79" x2="97" y1="394.0" y2="394.0"/>
<line x1="79" x2="97" y1="355.0" y2="355.0"/>
<line x1="79" x2="97" y1="317.0" y2="317.0"/>
<line x1="79" x2="97" y1="279.0" y2="279.0"/>
<line x1="79" x2="97" y1="241.0" y2="241.0"/>
<line x1="79" x2="97" y1="203.0" y2="203.0"/>
<line x1="79" x2="97" y1="165.0" y2="165.0"/>
<line x1="79" x2="97" y1="126.0" y2="126.0"/>
<line x1="132.0" x2="132.0" y1="491" y2="508"/>
<line x1="184.0" x2="184.0" y1="491" y2="508"/>
<line x1="237.0" x2="237.0" y1="491" y2="508"/>
<line x1="290.0" x2="290.0" y1="491" y2="508"/>
<line x1="342.0" x2="342.0" y1="491" y2="508"/>
<line x1="395.0" x2="395.0" y1="491" y2="508"/>
<line x1="447.0" x2="447.0" y1="491" y2="508"/>
<line x1="500.0" x2="500.0" y1="491" y2="508"/>
<line x1="553.0" x2="553.0" y1="491" y2="508"/>
<line x1="605.0" x2="605.0" y1="491" y2="508"/>
</g>
<g shape-rendering="crispEdges"><rect x="211.5" y="96.5" width="446" height="24" fill="#fff" stroke="#000" stroke-width="1"/></g>
<g id="txt" filter="url(#th)">
<text id="title" x="79.80" y="14.10" font-size="16.40" text-anchor="start" stroke-width="0.40" textLength="72.50" lengthAdjust="spacingAndGlyphs">W-E at 8S</text>
<text id="init" x="658.30" y="11.10" font-size="10.60" text-anchor="end" stroke-width="0.50" textLength="123.50" lengthAdjust="spacingAndGlyphs">Init: 2018-10-12_00:00:00</text>
<text id="valid" x="658.30" y="23.80" font-size="10.60" text-anchor="end" stroke-width="0.50" textLength="133.50" lengthAdjust="spacingAndGlyphs">Valid: 2018-10-17_18:00:00</text>
<text id="s1" x="81.50" y="59.60" font-size="10.00" text-anchor="start" stroke-width="0.50" textLength="133.00" lengthAdjust="spacingAndGlyphs">CO biomass burning   (ppb)</text>
<text id="s2" x="81.50" y="71.90" font-size="10.00" text-anchor="start" stroke-width="0.50" textLength="179.00" lengthAdjust="spacingAndGlyphs">Cloud + Ice water mixing ratio   (g/kg)</text>
<text id="s3" x="81.50" y="84.10" font-size="10.00" text-anchor="start" stroke-width="0.50" textLength="23.00" lengthAdjust="spacingAndGlyphs">Main</text>
<text id="cs" x="658.50" y="91.60" font-size="10.00" text-anchor="end" stroke-width="0.45" textLength="163.50" lengthAdjust="spacingAndGlyphs">Cross-Section: (130,346) to (454,346)</text>
<text id="lb" x="214.50" y="112.70" font-size="18.00" text-anchor="start" stroke-width="0.40" textLength="440.00" lengthAdjust="spacingAndGlyphs">Cloud + Ice water mixing ratio Contours: .001 to .1 by .099</text>
<text id="y0" x="67.80" y="514.00" font-size="16.50" text-anchor="end" stroke-width="0.40">0.0</text>
<text id="y1" x="67.80" y="476.00" font-size="16.50" text-anchor="end" stroke-width="0.40">1.0</text>
<text id="y2" x="67.80" y="438.00" font-size="16.50" text-anchor="end" stroke-width="0.40">2.0</text>
<text id="y3" x="67.80" y="400.00" font-size="16.50" text-anchor="end" stroke-width="0.40">3.0</text>
<text id="y4" x="67.80" y="361.00" font-size="16.50" text-anchor="end" stroke-width="0.40">4.0</text>
<text id="y5" x="67.80" y="323.00" font-size="16.50" text-anchor="end" stroke-width="0.40">5.0</text>
<text id="y6" x="67.80" y="285.00" font-size="16.50" text-anchor="end" stroke-width="0.40">6.0</text>
<text id="y7" x="67.80" y="247.00" font-size="16.50" text-anchor="end" stroke-width="0.40">7.0</text>
<text id="y8" x="67.80" y="209.00" font-size="16.50" text-anchor="end" stroke-width="0.40">8.0</text>
<text id="y9" x="67.80" y="171.00" font-size="16.50" text-anchor="end" stroke-width="0.40">9.0</text>
<text id="y10" x="67.80" y="132.00" font-size="16.50" text-anchor="end" stroke-width="0.40">10.0</text>
<text id="x0" x="79.30" y="533.10" font-size="16.50" text-anchor="middle" stroke-width="0.40">-20.1</text>
<text id="x1" x="131.94" y="533.10" font-size="16.50" text-anchor="middle" stroke-width="0.40">-16.9</text>
<text id="x2" x="184.58" y="533.10" font-size="16.50" text-anchor="middle" stroke-width="0.40">-13.8</text>
<text id="x3" x="237.22" y="533.10" font-size="16.50" text-anchor="middle" stroke-width="0.40">-10.6</text>
<text id="x4" x="289.86" y="533.10" font-size="16.50" text-anchor="middle" stroke-width="0.40">-7.4</text>
<text id="x5" x="342.50" y="533.10" font-size="16.50" text-anchor="middle" stroke-width="0.40">-4.2</text>
<text id="x6" x="395.14" y="533.10" font-size="16.50" text-anchor="middle" stroke-width="0.40">-1.1</text>
<text id="x7" x="447.78" y="533.10" font-size="16.50" text-anchor="middle" stroke-width="0.40">2.1</text>
<text id="x8" x="500.42" y="533.10" font-size="16.50" text-anchor="middle" stroke-width="0.40">5.3</text>
<text id="x9" x="553.06" y="533.10" font-size="16.50" text-anchor="middle" stroke-width="0.40">8.4</text>
<text id="x10" x="605.70" y="533.10" font-size="16.50" text-anchor="middle" stroke-width="0.40">11.6</text>
<text id="x11" x="658.34" y="533.10" font-size="16.50" text-anchor="middle" stroke-width="0.40">14.8</text>
<text id="l1" x="279.00" y="489.60" font-size="18.60" text-anchor="start" stroke-width="0.45" textLength="29.50" lengthAdjust="spacingAndGlyphs">.001</text>
<text id="l2" x="537.60" y="491.90" font-size="18.60" text-anchor="start" stroke-width="0.45" textLength="30.00" lengthAdjust="spacingAndGlyphs">.001</text>
<text id="lon" x="368.20" y="563.80" font-size="22.60" text-anchor="middle" stroke-width="0.60" textLength="92.00" lengthAdjust="spacingAndGlyphs">longitude</text>
<text id="hgt" transform="translate(16.90,302.50) rotate(-90)" font-size="24.00" text-anchor="middle" stroke-width="0.60" textLength="114.00" lengthAdjust="spacingAndGlyphs">Height (km)</text>
<text id="cbt" x="368.40" y="609.90" font-size="16.50" text-anchor="middle" stroke-width="0.40" textLength="205.00" lengthAdjust="spacingAndGlyphs">CO biomass burning  (ppb)</text>
<text id="c.2" x="231.40" y="665.70" font-size="16.50" text-anchor="middle" stroke-width="0.40">.2</text>
<text id="c1" x="292.30" y="665.70" font-size="16.50" text-anchor="middle" stroke-width="0.40">1</text>
<text id="c5" x="353.20" y="665.70" font-size="16.50" text-anchor="middle" stroke-width="0.40">5</text>
<text id="c20" x="414.20" y="665.70" font-size="16.50" text-anchor="middle" stroke-width="0.40">20</text>
<text id="c100" x="475.30" y="665.70" font-size="16.50" text-anchor="middle" stroke-width="0.40">100</text>
<text id="c500" x="536.00" y="665.70" font-size="16.50" text-anchor="middle" stroke-width="0.40">500</text>
</g>
<g shape-rendering="crispEdges" stroke="#000" stroke-width="1">
<rect x="170.5" y="617.5" width="30.0" height="20" fill="#ffffff"/>
<rect x="200.5" y="617.5" width="31.0" height="20" fill="#aaaaff"/>
<rect x="231.5" y="617.5" width="30.0" height="20" fill="#5555ff"/>
<rect x="261.5" y="617.5" width="31.0" height="20" fill="#0000ff"/>
<rect x="292.5" y="617.5" width="30.0" height="20" fill="#0032b4"/>
<rect x="322.5" y="617.5" width="31.0" height="20" fill="#007864"/>
<rect x="353.5" y="617.5" width="30.0" height="20" fill="#00aa1e"/>
<rect x="383.5" y="617.5" width="31.0" height="20" fill="#55c814"/>
<rect x="414.5" y="617.5" width="30.0" height="20" fill="#a5e10f"/>
<rect x="444.5" y="617.5" width="31.0" height="20" fill="#f5fa0a"/>
<rect x="475.5" y="617.5" width="30.0" height="20" fill="#ffb400"/>
<rect x="505.5" y="617.5" width="31.0" height="20" fill="#ff5f05"/>
<rect x="536.5" y="617.5" width="30.0" height="20" fill="#ff0a0a"/>
</g>
</svg>
</body></html>
